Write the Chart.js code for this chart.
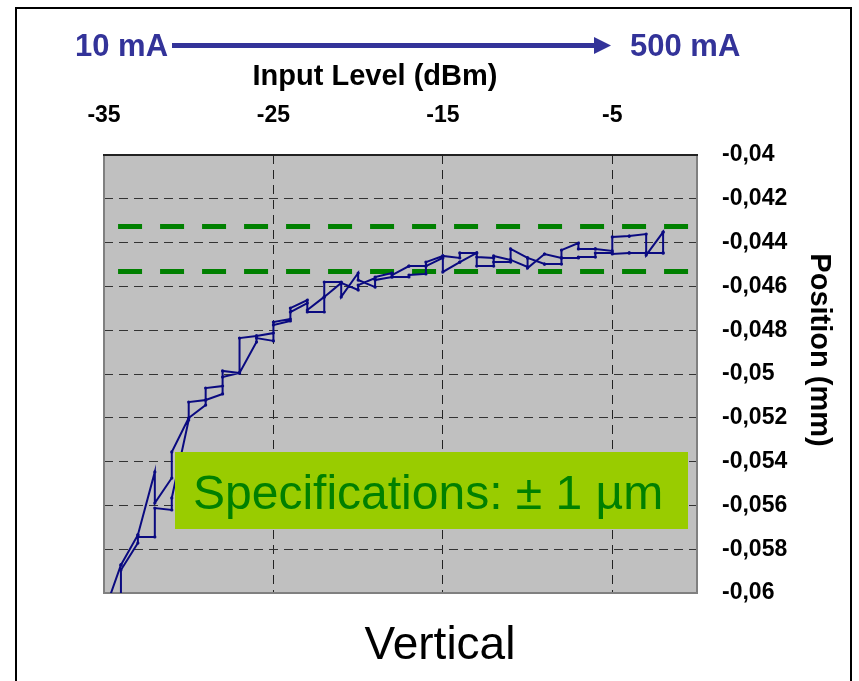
<!DOCTYPE html>
<html>
<head>
<meta charset="utf-8">
<script src="https://cdn.jsdelivr.net/npm/chart.js@4"></script>
<style>
  html, body { margin: 0; padding: 0; background: #fff; }
</style>
</head>
<body>
<canvas id="myChart" width="859" height="681"></canvas>
<script>
// input levels (dBm), one entry per measured step
const levels = [-35, -34, -33, -32, -31, -30, -29, -28, -27, -26, -25, -24, -23, -22, -21, -20, -19,
  -18, -17, -16, -15, -14, -13, -12, -11, -10, -9, -8, -7, -6, -5, -4, -3, -2];

// rising sweep: two readings per level (mm)
const upFirst = [-0.06091, -0.05872, -0.05735, -0.05447, -0.05475, -0.05201, -0.05119, -0.05055, -0.04995,
  -0.04826, -0.04813, -0.04749, -0.04662, -0.04717, -0.04580, -0.04539, -0.04603, -0.04539, -0.04507,
  -0.04507, -0.04461, -0.04489, -0.04447, -0.04507, -0.04479, -0.04470, -0.04452, -0.04470, -0.04402,
  -0.04429, -0.04438, -0.04370, -0.04361, -0.04352];
const upSecond = [-0.06091, -0.05872, -0.05735, -0.05589, -0.05356, -0.05128, -0.05064, -0.04986, -0.04836,
  -0.04826, -0.04763, -0.04699, -0.04717, -0.04580, -0.04648, -0.04571, -0.04557, -0.04548, -0.04507,
  -0.04489, -0.04534, -0.04489, -0.04507, -0.04461, -0.04429, -0.04516, -0.04452, -0.04434, -0.04429,
  -0.04429, -0.04374, -0.04370, -0.04457, -0.04352];

// falling sweep: two readings per level (mm)
const downFirst = [-0.06215, -0.05895, -0.05744, -0.05612, -0.05566, -0.05201, -0.05119, -0.05014, -0.04995,
  -0.04836, -0.04776, -0.04717, -0.04708, -0.04648, -0.04584, -0.04594, -0.04571, -0.04557, -0.04548,
  -0.04507, -0.04461, -0.04447, -0.04466, -0.04489, -0.04479, -0.04470, -0.04498, -0.04470, -0.04466,
  -0.04447, -0.04452, -0.04447, -0.04447, -0.04447];
const downSecond = [-0.06215, -0.06132, -0.05772, -0.05744, -0.05621, -0.05210, -0.05142, -0.05091, -0.04995,
  -0.04854, -0.04849, -0.04758, -0.04676, -0.04648, -0.04584, -0.04616, -0.04562, -0.04557, -0.04557,
  -0.04543, -0.04470, -0.04470, -0.04447, -0.04470, -0.04489, -0.04511, -0.04498, -0.04498, -0.04470,
  -0.04466, -0.04447, -0.04447, -0.04447, -0.04447];

// specification window (mm)
const specUpper = -0.04326;
const specLower = -0.04532;
const specFrom = -34.17;
const specTo = -0.45;

const xTicks = [-35, -25, -15, -5];
const yTicks = [-0.04, -0.042, -0.044, -0.046, -0.048, -0.05, -0.052, -0.054, -0.056, -0.058, -0.06];
const yTickLabels = ["-0,04", "-0,042", "-0,044", "-0,046", "-0,048", "-0,05", "-0,052", "-0,054", "-0,056", "-0,058", "-0,06"];

// the trace goes up in power, then back down
const path = [];
levels.forEach((x, i) => {
  path.push({ x: x, y: upFirst[i] });
  path.push({ x: x, y: upSecond[i] });
});
for (let i = levels.length - 1; i >= 0; i--) {
  path.push({ x: levels[i], y: downFirst[i] });
  path.push({ x: levels[i], y: downSecond[i] });
}

const FONT = "'Liberation Sans', Arial, sans-serif";

const decor = {
  id: "decor",
  beforeDraw(chart) {
    const { ctx, chartArea: a } = chart;
    ctx.save();
    ctx.fillStyle = "#fff";
    ctx.fillRect(0, 0, chart.width, chart.height);
    ctx.fillStyle = "#c0c0c0";
    ctx.fillRect(a.left, a.top, a.right - a.left, a.bottom - a.top);
    ctx.restore();
  },
  beforeDatasetsDraw(chart) {
    const { ctx, chartArea: a } = chart;
    ctx.save();
    ctx.strokeStyle = "#808080";
    ctx.lineWidth = 2;
    ctx.beginPath();
    ctx.moveTo(a.left, a.top);
    ctx.lineTo(a.left, a.bottom);
    ctx.lineTo(a.right, a.bottom);
    ctx.lineTo(a.right, a.top);
    ctx.stroke();
    ctx.strokeStyle = "#222";
    ctx.beginPath();
    ctx.moveTo(a.left - 1, a.top);
    ctx.lineTo(a.right + 1, a.top);
    ctx.stroke();
    ctx.restore();
  },
  afterDraw(chart) {
    const ctx = chart.ctx;
    ctx.save();

    // outer frame
    ctx.strokeStyle = "#000";
    ctx.lineWidth = 2;
    ctx.beginPath();
    ctx.moveTo(16, 690);
    ctx.lineTo(16, 8);
    ctx.lineTo(851, 8);
    ctx.lineTo(851, 690);
    ctx.stroke();

    // current range arrow
    ctx.fillStyle = "#333399";
    ctx.font = "bold 31px " + FONT;
    ctx.textBaseline = "alphabetic";
    ctx.textAlign = "left";
    ctx.fillText("10 mA", 75, 56);
    ctx.fillText("500 mA", 630, 56);
    ctx.fillRect(172, 43, 426, 5);
    ctx.beginPath();
    ctx.moveTo(594, 37);
    ctx.lineTo(611, 45.5);
    ctx.lineTo(594, 54);
    ctx.closePath();
    ctx.fill();

    // axis titles
    ctx.fillStyle = "#000";
    ctx.font = "bold 29px " + FONT;
    ctx.textAlign = "center";
    ctx.fillText("Input Level (dBm)", 375, 85);

    ctx.save();
    ctx.translate(811, 350);
    ctx.rotate(Math.PI / 2);
    ctx.fillText("Position (mm)", 0, 0);
    ctx.restore();

    // specification box
    ctx.fillStyle = "#99cc00";
    ctx.fillRect(175, 452, 513, 77);
    ctx.fillStyle = "#008000";
    ctx.font = "48px " + FONT;
    ctx.textAlign = "left";
    ctx.fillText("Specifications: \u00b1 1 \u00b5m", 193, 509);

    // caption
    ctx.fillStyle = "#000";
    ctx.font = "46px " + FONT;
    ctx.textAlign = "center";
    ctx.fillText("Vertical", 440, 659);

    ctx.restore();
  }
};

const ctx = document.getElementById("myChart");

new Chart(ctx, {
  type: "scatter",
  data: {
    datasets: [
      {
        label: "Position",
        data: path,
        showLine: true,
        borderColor: "#0a0a80",
        backgroundColor: "#0a0a80",
        borderWidth: 2,
        pointRadius: 1.6,
        pointBorderWidth: 0,
        tension: 0,
        order: 0,
      },
      {
        label: "Spec +",
        data: [{ x: specFrom, y: specUpper }, { x: specTo, y: specUpper }],
        showLine: true,
        borderColor: "#008000",
        borderWidth: 5,
        borderDash: [24, 18],
        pointRadius: 0,
        order: 1,
      },
      {
        label: "Spec -",
        data: [{ x: specFrom, y: specLower }, { x: specTo, y: specLower }],
        showLine: true,
        borderColor: "#008000",
        borderWidth: 5,
        borderDash: [24, 18],
        pointRadius: 0,
        order: 1,
      },
    ],
  },
  options: {
    responsive: false,
    animation: false,
    layout: { padding: { left: 104, right: 0, top: 0, bottom: 88 } },
    scales: {
      x: {
        type: "linear",
        position: "top",
        min: -35,
        max: 0,
        afterBuildTicks: (scale) => { scale.ticks = xTicks.map((v) => ({ value: v })); },
        afterFit: (scale) => { scale.height = 155; },
        grid: { color: "#222", lineWidth: 1, drawTicks: false },
        border: { display: false, dash: [9, 6] },
        ticks: {
          padding: 26,
          color: "#000",
          maxRotation: 0,
          font: { family: FONT, size: 23, weight: "bold" },
          callback: (v) => String(v),
        },
      },
      y: {
        type: "linear",
        position: "right",
        min: -0.06,
        max: -0.04,
        afterBuildTicks: (scale) => { scale.ticks = yTicks.map((v) => ({ value: v })); },
        afterFit: (scale) => { scale.width = 162; },
        grid: { color: "#333", lineWidth: 1, drawTicks: false },
        border: { display: false, dash: [9, 6] },
        ticks: {
          padding: 25,
          color: "#000",
          font: { family: FONT, size: 23, weight: "bold" },
          callback: (v, i) => yTickLabels[i],
        },
      },
    },
    plugins: {
      legend: { display: false },
      tooltip: { enabled: false },
    },
  },
  plugins: [decor],
});
</script>
</body>
</html>
